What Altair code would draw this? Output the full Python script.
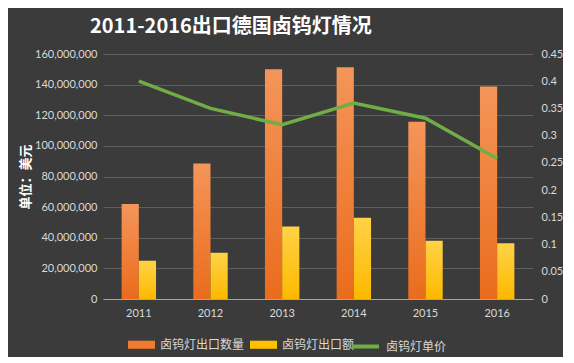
import altair as alt
import pandas as pd

years = ["2011", "2012", "2013", "2014", "2015", "2016"]
qty = [62000000, 88500000, 150000000, 151300000, 115800000, 138700000]
amount = [25000000, 30200000, 47300000, 53000000, 38000000, 36400000]
price = [0.40, 0.35, 0.32, 0.36, 0.332, 0.258]

s_qty = "卤钨灯出口数量"
s_amt = "卤钨灯出口额"
s_price = "卤钨灯单价"

bars = pd.DataFrame({
    "year": years * 2,
    "series": [s_qty] * 6 + [s_amt] * 6,
    "value": qty + amount,
})
line = pd.DataFrame({"year": years, "price": price, "series": [s_price] * 6})

FONT_NUM = "Lato"
FONT_CJK = "Noto Sans CJK SC"
LABEL = "#d9d9d9"
GRID = "#5e5e5e"


def grad(top, bottom):
    return alt.LinearGradient(gradient="linear", x1=0, y1=0, x2=0, y2=1,
                              stops=[alt.GradientStop(color=top, offset=0),
                                     alt.GradientStop(color=bottom, offset=1)])


x = alt.X("year:N", scale=alt.Scale(paddingInner=0.52, paddingOuter=0.26),
          axis=alt.Axis(title=None, labelAngle=0, labelColor=LABEL, labelFont=FONT_NUM,
                        labelFontSize=11, ticks=False, domainColor="#a6a6a6",
                        domainWidth=1.2, labelPadding=8, grid=False))

y_left = alt.Y("value:Q",
               scale=alt.Scale(domain=[0, 160000000]),
               axis=alt.Axis(title="单位：美元", titleColor="#ffffff", titleFont=FONT_CJK,
                             titleFontSize=13, titleFontWeight="bold", titleX=-71,
                             values=list(range(0, 160000001, 20000000)), format=",d",
                             labelColor=LABEL, labelFont=FONT_NUM, labelFontSize=11,
                             ticks=False, domain=False, gridColor=GRID, gridWidth=1,
                             labelPadding=6))
xoff = alt.XOffset("series:N", sort=[s_qty, s_amt],
                   scale=alt.Scale(domain=[s_qty, s_amt]))

legend_layer = alt.Chart(bars).mark_bar(opacity=0).encode(
    x=x, xOffset=xoff, y=y_left,
    fill=alt.Fill("series:N", sort=[s_qty, s_amt],
                  scale=alt.Scale(domain=[s_qty, s_amt], range=["#f07b2f", "#ffc000"]),
                  legend=alt.Legend(title=None, orient="none", legendX=25, legendY=277,
                                    direction="horizontal",
                                    symbolType="M-1,-0.3H1V0.3H-1Z", symbolSize=729,
                                    symbolStrokeWidth=0, symbolOpacity=1,
                                    labelColor=LABEL, labelFont=FONT_CJK, labelFontSize=12,
                                    symbolOffset=0, labelOffset=5, columnPadding=5)),
)

qty_layer = alt.Chart(bars).transform_filter(
    alt.datum.series == s_qty
).mark_bar(color=grad("#f4955a", "#ea6c1c")).encode(x=x, xOffset=xoff, y=y_left)

amt_layer = alt.Chart(bars).transform_filter(
    alt.datum.series == s_amt
).mark_bar(color=grad("#ffd246", "#fdb900")).encode(x=x, xOffset=xoff, y=y_left)

bar_group = alt.layer(legend_layer, qty_layer, amt_layer)

line_layer = alt.Chart(line).mark_line(strokeWidth=3.5).encode(
    x=alt.X("year:N"),
    y=alt.Y("price:Q",
            scale=alt.Scale(domain=[0, 0.45]),
            axis=alt.Axis(title=None, orient="right",
                          values=[0, 0.05, 0.1, 0.15, 0.2, 0.25, 0.3, 0.35, 0.4, 0.45],
                          format=".2~f", labelColor=LABEL, labelFont=FONT_NUM,
                          labelFontSize=11, ticks=False, domain=False, grid=False,
                          labelPadding=8)),
    stroke=alt.Stroke("series:N",
                      scale=alt.Scale(domain=[s_price], range=["#70ad47"]),
                      legend=alt.Legend(title=None, orient="none", legendX=247, legendY=277,
                                        symbolType="stroke", symbolSize=729,
                                        symbolStrokeWidth=4,
                                        labelColor=LABEL, labelFont=FONT_CJK,
                                        labelFontSize=12, labelOffset=5)),
)

chart = alt.layer(bar_group, line_layer).resolve_scale(
    y="independent"
).properties(
    width=430,
    height=245,
    padding={"left": 95, "top": 46, "right": 30, "bottom": 58},
    autosize=alt.AutoSizeParams(type="none"),
    background="#3b3b3b",
    title=alt.Title("2011-2016出口德国卤钨灯情况", font=FONT_CJK, fontSize=20,
                    fontWeight="bold", color="#ffffff", anchor="start", frame="group",
                    dx=-13, offset=11),
).configure_view(stroke=None)

chart.save("out.html", embed_options={"renderer": "svg", "actions": False})
